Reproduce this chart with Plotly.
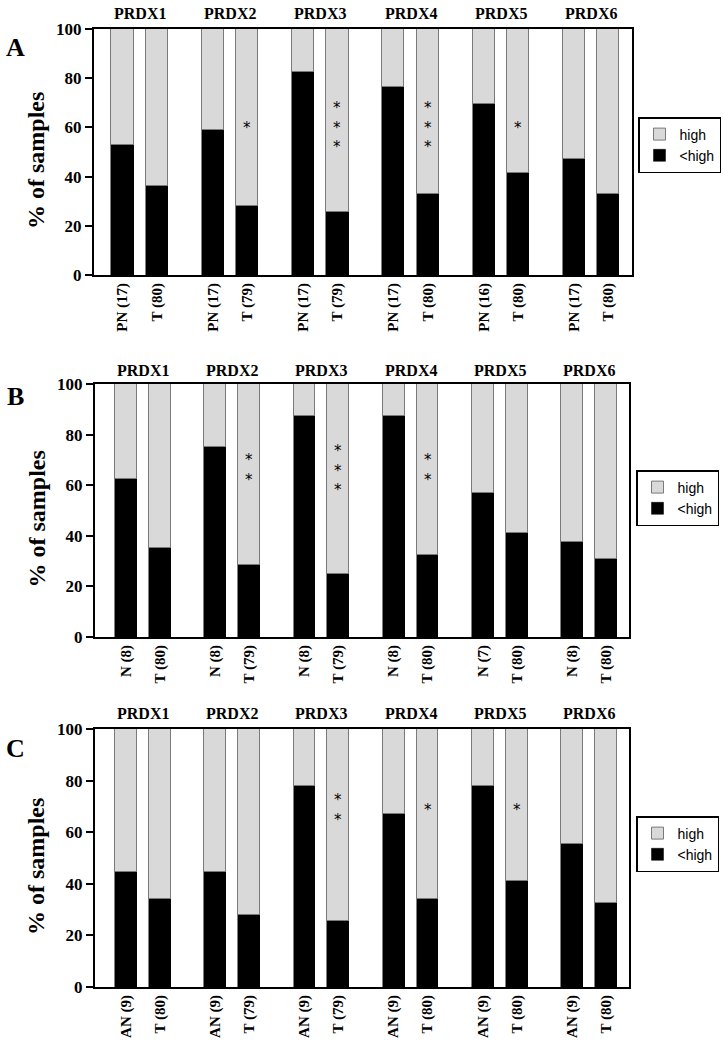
import plotly.graph_objects as go

W, H = 723, 1050

# ---------------- data ----------------
genes = ["PRDX1", "PRDX2", "PRDX3", "PRDX4", "PRDX5", "PRDX6"]

labels_A = ["PN (17)", "T (80)", "PN (17)", "T (79)", "PN (17)", "T (79)",
            "PN (17)", "T (80)", "PN (16)", "T (80)", "PN (17)", "T (80)"]
below_high_A = [53, 36, 59, 28, 82.5, 25.5, 76.5, 33, 69.5, 41.5, 47, 33]
stars_A = ["", "", "", "*", "", "***", "", "***", "", "*", "", ""]

labels_B = ["N (8)", "T (80)", "N (8)", "T (79)", "N (8)", "T (79)",
            "N (8)", "T (80)", "N (7)", "T (80)", "N (8)", "T (80)"]
below_high_B = [62.5, 35, 75, 28.5, 87.5, 25, 87.5, 32.5, 57, 41, 37.5, 31]
stars_B = ["", "", "", "**", "", "***", "", "**", "", "", "", ""]

labels_C = ["AN (9)", "T (80)", "AN (9)", "T (79)", "AN (9)", "T (79)",
            "AN (9)", "T (80)", "AN (9)", "T (80)", "AN (9)", "T (80)"]
below_high_C = [44.5, 34, 44.5, 28, 78, 25.5, 67, 34, 78, 41, 55.5, 32.5]
stars_C = ["", "", "", "", "", "**", "", "*", "", "*", "", ""]

panel_letters = ["A", "B", "C"]
y_ticks = [0, 20, 40, 60, 80, 100]

# ---------------- layout constants (pixels) ----------------
SERIF = "Liberation Serif"
SANS = "Liberation Sans"
BLACK = "#000000"
GREY = "#d9d9d9"

panels = [
    dict(labels=labels_A, vals=below_high_A, stars=stars_A,
         left=94, right=632, top=29, bottom=275, x0=-0.316, x1=5.642,
         star_y=61.5, title_y=14, letter_y=47, legend_pos=(638, 117)),
    dict(labels=labels_B, vals=below_high_B, stars=stars_B,
         left=95, right=629, top=384, bottom=637, x0=-0.348, x1=5.639,
         star_y=67.5, title_y=370, letter_y=397, legend_pos=(636, 470)),
    dict(labels=labels_C, vals=below_high_C, stars=stars_C,
         left=95, right=629, top=729, bottom=987, x0=-0.348, x1=5.639,
         star_y=70, title_y=713, letter_y=748, legend_pos=(636, 816)),
]
T_OFFSET = 0.38
BAR_W = 0.245


def px_x(p):
    return p / W


def px_y(p):
    return 1 - p / H


fig = go.Figure()
annotations = []
layout = dict(
    width=W, height=H, autosize=False,
    margin=dict(l=0, r=0, t=0, b=0, pad=0),
    paper_bgcolor="white", plot_bgcolor="white",
    barmode="stack", bargap=0,
    showlegend=True,
)

for i, p in enumerate(panels):
    n = i + 1
    xa = "x" if n == 1 else f"x{n}"
    ya = "y" if n == 1 else f"y{n}"
    lg = "legend" if n == 1 else f"legend{n}"
    xpos = []
    for g in range(len(genes)):
        xpos += [g, g + T_OFFSET]
    low = p["vals"]
    high = [100 - v for v in low]

    fig.add_trace(go.Bar(
        x=xpos, y=low, width=BAR_W, name="&lt;high", legend=lg,
        marker=dict(color=BLACK, line=dict(color=BLACK, width=0.5)),
        xaxis=xa, yaxis=ya, hoverinfo="skip"))
    fig.add_trace(go.Bar(
        x=xpos, y=high, width=BAR_W, name="high", legend=lg,
        marker=dict(color=GREY, line=dict(color="#7a7a7a", width=1)),
        xaxis=xa, yaxis=ya, hoverinfo="skip"))

    xkey = "xaxis" if n == 1 else f"xaxis{n}"
    ykey = "yaxis" if n == 1 else f"yaxis{n}"
    layout[xkey] = dict(
        domain=[px_x(p["left"]), px_x(p["right"])],
        anchor=ya, range=[p["x0"], p["x1"]], automargin=False,
        tickmode="array", tickvals=xpos, ticktext=p["labels"],
        tickangle=-90, ticks="", showgrid=False, zeroline=False,
        showline=True, linecolor=BLACK, linewidth=2, mirror=True,
        tickfont=dict(family=SERIF, size=15, color=BLACK, weight="bold"),
        fixedrange=True,
    )
    layout[ykey] = dict(
        domain=[px_y(p["bottom"]), px_y(p["top"])],
        anchor=xa, range=[0, 100], automargin=False,
        tickmode="array", tickvals=y_ticks,
        ticks="outside", ticklen=7, tickwidth=1.5, tickcolor=BLACK,
        showgrid=False, zeroline=False,
        showline=True, linecolor=BLACK, linewidth=2, mirror=True,
        tickfont=dict(family=SERIF, size=17, color=BLACK, weight="bold"),
        fixedrange=True,
    )
    lx, ly = p["legend_pos"]
    layout[lg] = dict(
        x=px_x(lx), y=px_y(ly),
        xanchor="left", yanchor="top",
        bgcolor="white", bordercolor=BLACK, borderwidth=1.5,
        font=dict(family=SANS, size=14, color=BLACK),
        traceorder="reversed", itemwidth=30, tracegroupgap=0,
    )

    # gene titles above each group
    for g, gene in enumerate(genes):
        annotations.append(dict(
            x=g + T_OFFSET / 2, xref=xa, y=px_y(p["title_y"]), yref="paper",
            text=gene, showarrow=False, xanchor="center", yanchor="middle",
            font=dict(family=SERIF, size=16, color=BLACK, weight="bold")))

    # significance stars (stacked lines)
    for k, s in enumerate(p["stars"]):
        if s:
            annotations.append(dict(
                x=xpos[k], xref=xa, y=p["star_y"], yref=ya,
                text="<br>".join(list(s)), showarrow=False,
                xanchor="center", yanchor="middle", yshift=-4,
                font=dict(family="DejaVu Sans", size=15, color=BLACK)))

    # panel letter
    annotations.append(dict(
        x=px_x(15), xref="paper", y=px_y(p["letter_y"]), yref="paper",
        text=panel_letters[i], showarrow=False, xanchor="center", yanchor="middle",
        font=dict(family=SERIF, size=26, color=BLACK, weight="bold")))

    # y-axis title
    annotations.append(dict(
        x=px_x(36), xref="paper",
        y=px_y((p["top"] + p["bottom"]) / 2 + 9), yref="paper",
        text="% of samples", textangle=-90, showarrow=False,
        xanchor="center", yanchor="middle",
        font=dict(family=SERIF, size=24, color=BLACK, weight="bold")))

layout["annotations"] = annotations
fig.update_layout(**layout)

fig.write_html(
    "out.html",
    config={"displayModeBar": False},
    post_script="document.body.style.margin='0';document.body.style.padding='0';"
                "document.documentElement.style.overflow='hidden';",
)
